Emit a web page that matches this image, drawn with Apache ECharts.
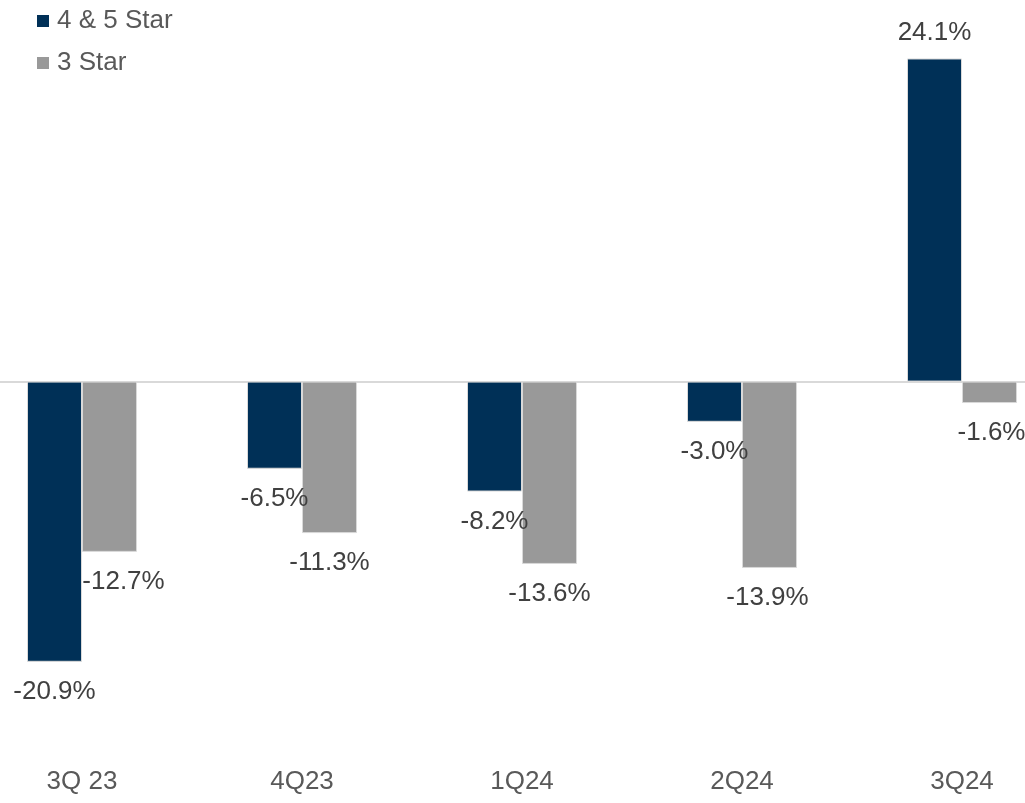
<!DOCTYPE html>
<html>
<head>
<meta charset="utf-8">
<script src="https://cdn.jsdelivr.net/npm/echarts@6/dist/echarts.min.js"></script>
<style>
html,body{margin:0;padding:0;background:#fff;overflow:hidden;}
#wrap{position:relative;width:1025px;height:803px;overflow:hidden;}
#chart{position:absolute;left:-28px;top:0;width:1100px;height:803px;}
</style>
</head>
<body>
<div id="wrap"><div id="chart"></div></div>
<script>
const categories = ['3Q 23', '4Q23', '1Q24', '2Q24', '3Q24']
const star45 = [-20.9, -6.5, -8.2, -3.0, 24.1]
const star3 = [-12.7, -11.3, -13.6, -13.9, -1.6]
const seriesNames = ['4 & 5 Star', '3 Star']
const colors = ['#003057', '#999999']

// label below the bar end for negatives, above for positives
function toItems(vals, shifts){
  return vals.map(function(v, i){
    return {
      value: v,
      label: {
        position: v < 0 ? 'bottom' : 'top',
        distance: v < 0 ? 17 : 13,
        offset: [shifts ? shifts[i] : 0, 0]
      }
    }
  })
}

const font = 'Liberation Sans, Arial, sans-serif'

const labelStyle = {
  show: true,
  fontFamily: font,
  fontSize: 26,
  color: '#404040',
  formatter: function(p){ return p.value.toFixed(1) + '%' }
}

const option = {
  animation: false,
  legend: {
    orient: 'vertical',
    left: 60,
    top: 3,
    itemWidth: 12,
    itemHeight: 12,
    itemGap: 16,
    icon: 'rect',
    itemStyle: {borderWidth: 0},
    textStyle: {fontFamily: font, fontSize: 26, color: '#595959', padding: [0,0,0,3]},
    data: seriesNames
  },
  grid: {
    left: 0,
    right: 0,
    top: 33,
    bottom: 46,
    containLabel: false
  },
  xAxis: {
    type: 'category',
    data: categories,
    axisLine: {show: false},
    axisTick: {show: false},
    axisLabel: {fontFamily: font, fontSize: 26, color: '#595959', margin: 12}
  },
  yAxis: {
    type: 'value',
    min: -28,
    max: 26,
    axisLabel: {show: false},
    axisLine: {show: false},
    axisTick: {show: false},
    splitLine: {show: false}
  },
  series: [
    {
      name: seriesNames[0],
      type: 'bar',
      data: toItems(star45),
      barWidth: 55,
      barGap: '0%',
      itemStyle: {color: colors[0], borderColor: '#d9d9d9', borderWidth: 1},
      label: labelStyle,
      markLine: {
        silent: true,
        symbol: 'none',
        label: {show: false},
        lineStyle: {color: '#d9d9d9', width: 2, type: 'solid'},
        data: [{yAxis: 0}],
        z: 1
      }
    },
    {
      name: seriesNames[1],
      type: 'bar',
      data: toItems(star3, [14, 0, 0, -2, 2]),
      barWidth: 55,
      barGap: '0%',
      itemStyle: {color: colors[1], borderColor: '#d9d9d9', borderWidth: 1},
      label: labelStyle
    }
  ]
}

const chart = echarts.init(document.getElementById('chart'))
chart.setOption(option)
</script>
</body>
</html>
